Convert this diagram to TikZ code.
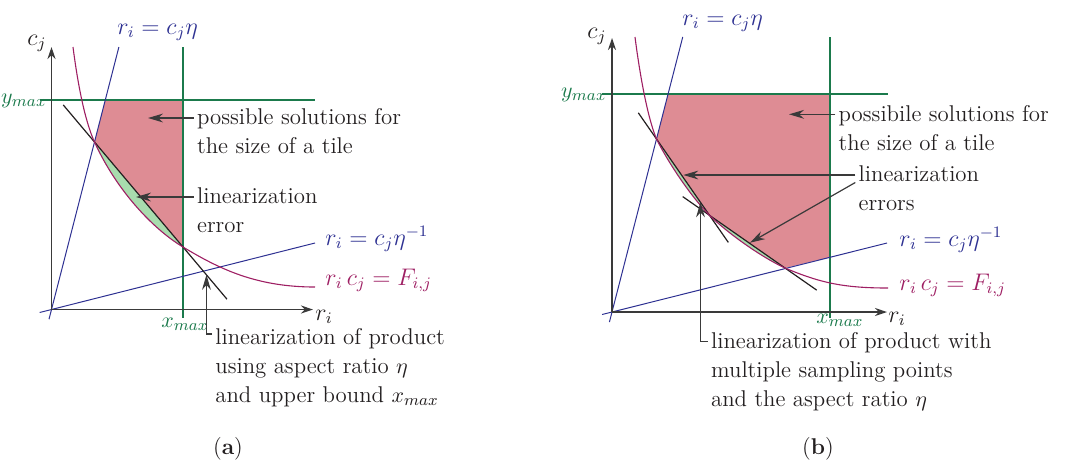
\documentclass[tikz,border=0pt]{standalone}
\usetikzlibrary{calc,arrows.meta}
\definecolor{inkblack}{HTML}{231F20}
\definecolor{axisgray}{HTML}{3A3A3A}
\definecolor{ratioblue}{HTML}{2E3192}
\definecolor{curvepurple}{HTML}{9E1F63}
\definecolor{boundgreen}{HTML}{1B7A4C}
\definecolor{solred}{HTML}{DE8C94}
\definecolor{errgreen}{HTML}{A8DCAE}

\begin{document}
\begin{tikzpicture}[x=0.5pt,y=-0.5pt,
  every node/.style={font=\fontsize{11.4}{14.5}\selectfont,inner sep=0pt,text=inkblack},
  txt/.style={align=left,inner sep=1.5pt,anchor=north west},
  lbl/.style={anchor=base west,font=\fontsize{12}{14.5}\selectfont},
  axis/.style={draw=axisgray,line width=0.7pt,-{Stealth[length=6pt,width=4pt]}},
  note/.style={draw=axisgray,line width=0.6pt,-{Stealth[length=7.5pt,width=4.4pt]}},
  bound/.style={draw=boundgreen,line width=0.55pt},
  ratio/.style={draw=ratioblue,line width=0.5pt},
  curve/.style={draw=curvepurple,line width=0.55pt},
  chord/.style={draw=inkblack,line width=0.6pt}]
\useasboundingbox (0,0) rectangle (1071,463);

% (a) one sampling point
\coordinate (oa) at (51.5,309.5);
\coordinate (sa) at (73,47);
\coordinate (pa) at (94.5,142);
\coordinate (qa) at (183,247);
\coordinate (ea) at (315,287);
\coordinate (ra) at (315,243);
\coordinate (ya) at ($(oa)!1.254!(pa)$);
\coordinate (ta) at ($(pa)!1.265!(qa)$);
\fill[solred] (ya) -- (183,100) -- (qa) -- (pa) -- cycle;
\fill[errgreen] (pa) -- (qa) .. controls (153,229) and (116.5,190.4) .. (pa) -- cycle;
\draw[bound] (40,100) -- (315,100);
\draw[bound] (183,47) -- (183,318);
\draw[ratio] ($(oa)!-0.058!(pa)$) -- ($(oa)!1.567!(pa)$);
\draw[ratio] ($(oa)!-0.045!(ra)$) -- (ra);
\draw[chord] ($(pa)!-0.353!(qa)$) -- ($(pa)!1.497!(qa)$);
\draw[curve] (sa) .. controls (77.5,82) and (84.5,120) .. (pa)
  .. controls (116.5,190.4) and (153,229) .. (qa)
  .. controls (218,268) and (255,287) .. (ea);
\draw[axis] (oa) -- (51.5,47);
\draw[axis] (oa) -- (313,309.5);
\node[lbl] (cA) at (27,45) {$c_j$};
\node[lbl] (rA) at (315,320) {$r_i$};
\node[lbl,anchor=base east,text=boundgreen,font=\fontsize{11.4}{14.5}\selectfont] (ymaxA) at (47,103) {$y_{max}$};
\node[lbl,text=boundgreen,font=\fontsize{11.4}{14.5}\selectfont] (xmaxA) at (161,327) {$x_{max}$};
\node[lbl,text=ratioblue] (etaA) at (117,34) {$r_i = c_j\eta$};
\node[lbl,text=ratioblue] (etainvA) at (325,245) {$r_i = c_j\eta^{-1}$};
\node[lbl,text=curvepurple] (prodA) at (325,285) {$r_i\,c_j = F_{i,j}$};
\node[txt] (solA) at (193.7,105.5) {possible solutions for\\the size of a tile};
\node[txt] (errA) at (193.7,184.5) {linearization\\error};
\node[txt] (linA) at (212,325) {linearization of product\\using aspect ratio $\eta$\\and upper bound $x_{max}$};
\coordinate (tsa) at (148,118);
\coordinate (tea) at (136,197);
\draw[note] (solA.west |- tsa) -- (tsa);
\draw[note] (errA.west |- tea) -- (tea);
\draw[note] ([yshift=-4.5pt]linA.north west) -| (ta);
\node (capA) at (228,449) {(\textbf{a})};

% (b) several sampling points
\coordinate (ob) at (612,312);
\coordinate (sb) at (635,37);
\coordinate (pb) at (656.5,139);
\coordinate (mb) at (709.5,215.3);
\coordinate (qb) at (785,268);
\coordinate (eb) at (888,288);
\coordinate (rb) at (887,243);
\coordinate (yb) at ($(ob)!1.26!(pb)$);
\coordinate (xb) at ($(ob)!0.7927!(rb)$);
\coordinate (tb) at ($(pb)!0.83!(mb)$);
\fill[solred] (yb) -- (830,94) -- (xb) -- (qb) -- (mb) -- (pb) -- cycle;
\fill[errgreen] (pb) -- (mb) .. controls (690.5,196) and (668,162.2) .. (pb) -- cycle;
\fill[errgreen] (mb) -- (qb) .. controls (761,256.9) and (727.5,233) .. (mb) -- cycle;
\draw[bound] (602,94) -- (888,94);
\draw[bound] (830,37) -- (830,318);
\draw[ratio] ($(ob)!-0.058!(pb)$) -- ($(ob)!1.59!(pb)$);
\draw[ratio] ($(ob)!-0.036!(rb)$) -- (rb);
\draw[chord] ($(pb)!-0.343!(mb)$) -- ($(pb)!1.355!(mb)$);
\draw[chord] ($(mb)!-0.355!(qb)$) -- ($(mb)!1.42!(qb)$);
\draw[curve] (sb) .. controls (639.5,72) and (647,116) .. (pb)
  .. controls (668,162.2) and (690.5,196) .. (mb)
  .. controls (727.5,233) and (761,256.9) .. (qb)
  .. controls (820,282.7) and (843,288) .. (eb);
\draw[axis] (ob) -- (612,38);
\draw[axis] (ob) -- (887,312);
\node[lbl] (cB) at (587,38) {$c_j$};
\node[lbl] (rB) at (888,322) {$r_i$};
\node[lbl,anchor=base east,text=boundgreen,font=\fontsize{11.4}{14.5}\selectfont] (ymaxB) at (607,97) {$y_{max}$};
\node[lbl,text=boundgreen,font=\fontsize{11.4}{14.5}\selectfont] (xmaxB) at (816,323) {$x_{max}$};
\node[lbl,text=ratioblue] (etaB) at (682,25) {$r_i = c_j\eta$};
\node[lbl,text=ratioblue] (etainvB) at (899,246) {$r_i = c_j\eta^{-1}$};
\node[lbl,text=curvepurple] (prodB) at (899,290) {$r_i\,c_j = F_{i,j}$};
\node[txt] (solB) at (835.3,101.8) {possibile solutions for\\the size of a tile};
\node[txt] (errB) at (855.3,162.5) {linearization\\errors};
\node[txt] (linB) at (707.7,328.7) {linearization of product with\\multiple sampling points\\and the aspect ratio $\eta$};
\coordinate (tsb) at (789,114.3);
\coordinate (teb) at (683.3,175);
\coordinate (tfb) at (750,242.7);
\draw[note] (solB.west |- tsb) -- (tsb);
\draw[note] (errB.west |- teb) -- (teb);
\draw[note] ([yshift=-10pt]errB.north west) -- (tfb);
\draw[note] ([yshift=-6.5pt]linB.north west) -| (tb);
\node (capB) at (818,449) {(\textbf{b})};
\end{tikzpicture}
\end{document}
